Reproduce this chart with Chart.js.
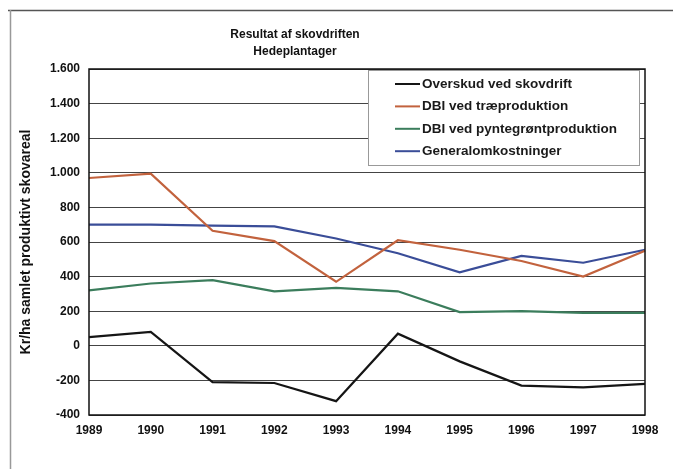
<!DOCTYPE html>
<html>
<head>
<meta charset="utf-8">
<script src="https://cdn.jsdelivr.net/npm/chart.js@4/dist/chart.umd.min.js"></script>
<style>
  html, body { margin: 0; padding: 0; background: #fff; }
  #wrap { position: relative; width: 673px; height: 469px; }
</style>
</head>
<body>
<div id="wrap"><canvas id="c" width="673" height="469"></canvas></div>
<script>
// Categories (years)
const years = ['1989','1990','1991','1992','1993','1994','1995','1996','1997','1998'];

// Series values, kr/ha
const overskud = [50, 80, -210, -215, -320, 70, -90, -230, -240, -220];
const dbiTrae = [970, 995, 665, 605, 370, 610, 555, 490, 400, 550];
const dbiPynt = [320, 360, 380, 315, 335, 315, 195, 200, 190, 190];
const general = [700, 700, 695, 690, 620, 535, 425, 520, 480, 555];

// Series names
const seriesNames = ['Overskud ved skovdrift', 'DBI ved træproduktion', 'DBI ved pyntegrøntproduktion', 'Generalomkostninger'];

// Titles
const titleLines = ['Resultat af skovdriften', 'Hedeplantager'];
const yTitle = 'Kr/ha samlet produktivt skovareal';

// Y axis range
const yMin = -400, yMax = 1600, yStep = 200;

const colors = ['#151515', '#c2623d', '#3b7d5c', '#3a4d98'];
const FONT = '"Liberation Sans", Arial, sans-serif';

function fmt(v) {
  const s = Math.abs(v).toString().replace(/\B(?=(\d{3})+(?!\d))/g, '.');
  return (v < 0 ? '-' : '') + s;
}

// Page frame, titles, legend and plot border
const decor = {
  id: 'decor',
  beforeDraw(chart) {
    const ctx = chart.ctx;
    ctx.save();
    ctx.fillStyle = '#fff';
    ctx.fillRect(0, 0, chart.width, chart.height);
    ctx.strokeStyle = '#555';
    ctx.lineWidth = 1.5;
    ctx.beginPath();
    ctx.moveTo(8, 10.5); ctx.lineTo(chart.width, 10.5);
    ctx.stroke();
    ctx.strokeStyle = '#999';
    ctx.lineWidth = 1.5;
    ctx.beginPath();
    ctx.moveTo(10.5, 10); ctx.lineTo(10.5, chart.height);
    ctx.stroke();
    ctx.restore();
  },
  beforeDatasetsDraw(chart) {
    const ctx = chart.ctx;
    ctx.save();
    const lx = 368, ly = 70, lw = 271, lh = 95;
    ctx.fillStyle = '#fff';
    ctx.fillRect(lx, ly, lw, lh);
    ctx.strokeStyle = '#999';
    ctx.lineWidth = 1;
    ctx.strokeRect(lx + 0.5, ly + 0.5, lw, lh);
    ctx.font = 'bold 13.5px ' + FONT;
    ctx.textBaseline = 'middle';
    ctx.textAlign = 'left';
    chart.data.datasets.forEach((ds, i) => {
      const yy = 84 + i * 22.4;
      ctx.strokeStyle = ds.borderColor;
      ctx.lineWidth = 2;
      ctx.beginPath();
      ctx.moveTo(395, yy); ctx.lineTo(420, yy);
      ctx.stroke();
      ctx.fillStyle = '#1a1a1a';
      ctx.fillText(ds.label, 422, yy);
    });
    ctx.restore();
  },
  afterDatasetsDraw(chart) {
    const ctx = chart.ctx;
    const a = chart.chartArea;
    ctx.save();
    ctx.strokeStyle = '#111';
    ctx.lineWidth = 1.5;
    ctx.strokeRect(a.left, a.top, a.right - a.left, a.bottom - a.top);
    ctx.fillStyle = '#111';
    ctx.font = 'bold 12px ' + FONT;
    ctx.textAlign = 'center';
    ctx.textBaseline = 'middle';
    ctx.fillText(titleLines[0], 295, 35);
    ctx.fillText(titleLines[1], 295, 52);
    ctx.translate(26, (a.top + a.bottom) / 2);
    ctx.rotate(-Math.PI / 2);
    ctx.font = 'bold 14px ' + FONT;
    ctx.fillText(yTitle, 0, 0);
    ctx.restore();
  }
};

const datasets = [overskud, dbiTrae, dbiPynt, general].map((d, i) => ({
  label: seriesNames[i],
  data: d,
  borderColor: colors[i],
  backgroundColor: colors[i],
  borderWidth: 2.2,
  pointRadius: 0,
  tension: 0,
  fill: false
}));

new Chart(document.getElementById('c'), {
  type: 'line',
  data: { labels: years, datasets },
  plugins: [decor],
  options: {
    responsive: false,
    animation: false,
    devicePixelRatio: 1,
    layout: { padding: { top: 69, right: 28, left: 0, bottom: 0 } },
    plugins: { legend: { display: false }, title: { display: false }, tooltip: { enabled: false } },
    scales: {
      x: {
        offset: false,
        grid: { display: false, drawTicks: false },
        border: { display: false },
        ticks: { color: '#111', font: { family: FONT, size: 12, weight: 'bold' }, padding: 8, maxRotation: 0, autoSkip: false },
        afterFit(s) { s.height = 469 - 415; }
      },
      y: {
        min: yMin, max: yMax,
        grid: { color: '#444', lineWidth: 1, drawTicks: false },
        border: { display: false },
        ticks: { stepSize: yStep, color: '#111', font: { family: FONT, size: 12, weight: 'bold' }, padding: 9, callback: v => fmt(v) },
        afterFit(s) { s.width = 89; }
      }
    }
  }
});
</script>
</body>
</html>
